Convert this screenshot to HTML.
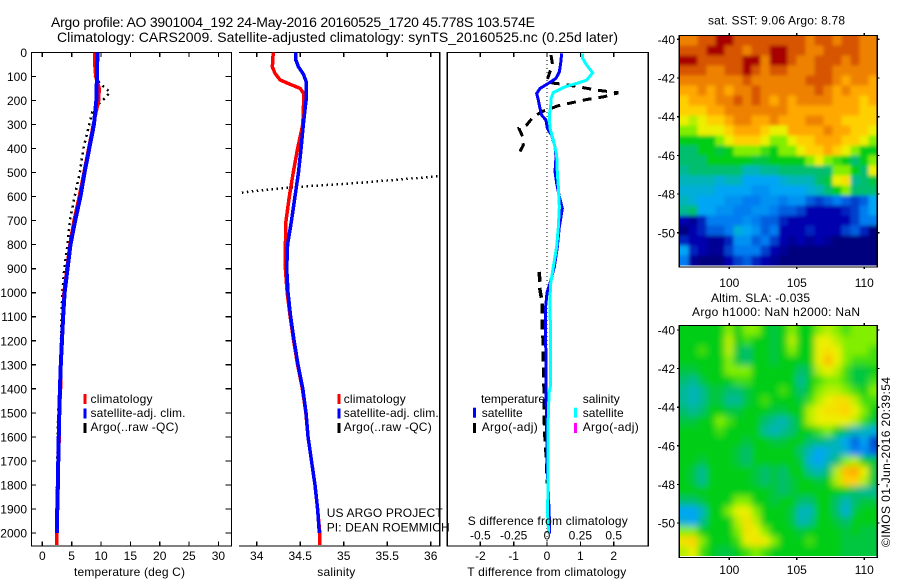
<!DOCTYPE html>
<html lang="en">
<head>
<meta charset="utf-8">
<title>Argo profile 3901004_192</title>
<style>
html,body{margin:0;padding:0;background:#fff;}
svg{display:block;}
text{font-family:"Liberation Sans",sans-serif;font-size:12px;fill:#000;}
.ttl{font-size:14px;}
.mid{text-anchor:middle;}
.end{text-anchor:end;}
.fr{stroke:#000;stroke-width:1.3;fill:none;shape-rendering:crispEdges;}
</style>
</head>
<body>
<svg id="fig" xmlns="http://www.w3.org/2000/svg" width="900" height="580" viewBox="0 0 900 580">
  <defs>
    <clipPath id="clipT"><rect x="32" y="52" width="199" height="494"/></clipPath>
    <clipPath id="clipS"><rect x="239" y="52" width="201" height="494"/></clipPath>
    <clipPath id="clipD"><rect x="447" y="52" width="201" height="494"/></clipPath>
    <clipPath id="clipM1"><rect x="679.3" y="35.5" width="198" height="230"/></clipPath>
    <clipPath id="clipM2"><rect x="679.3" y="325.5" width="198" height="230.5"/></clipPath>
    <filter id="soft" filterUnits="userSpaceOnUse" x="640" y="290" width="280" height="300"><feGaussianBlur stdDeviation="3.5"/></filter>
    <filter id="softA" filterUnits="userSpaceOnUse" x="640" y="0" width="280" height="300"><feGaussianBlur stdDeviation="1.8"/></filter>
  </defs>

  <text class="ttl" x="51" y="27" textLength="484" lengthAdjust="spacing">Argo profile: AO 3901004_192 24-May-2016 20160525_1720 45.778S 103.574E</text>
  <text class="ttl" x="57" y="42" textLength="561" lengthAdjust="spacing">Climatology: CARS2009. Satellite-adjusted climatology: synTS_20160525.nc (0.25d later)</text>

  <g id="panelT">
    <path class="fr" d="M31.5 52.5H231.5V546H31.5Z"/>
    <g id="seriesT" clip-path="url(#clipT)"></g>
    <g id="ticksT"></g>
    <rect x="83.5" y="394" width="3" height="10" fill="#f00"/>
    <text x="90.5" y="403" textLength="62">climatology</text>
    <rect x="83.5" y="408.5" width="3" height="10" fill="#00f"/>
    <text x="90.5" y="417" textLength="95">satellite-adj. clim.</text>
    <rect x="83.5" y="423" width="3" height="10" fill="#000"/>
    <text x="90.5" y="431" textLength="88">Argo(..raw -QC)</text>
    <text class="mid" x="129.5" y="576" textLength="111">temperature (deg C)</text>
  </g>

  <g id="panelS">
    <path class="fr" d="M239 52.5H439.7V546H239"/>
    <g id="seriesS" clip-path="url(#clipS)"></g>
    <g id="ticksS"></g>
    <rect x="337.5" y="394" width="3" height="10" fill="#f00"/>
    <text x="343.7" y="403" textLength="62">climatology</text>
    <rect x="337.5" y="408.5" width="3" height="10" fill="#00f"/>
    <text x="343.7" y="417" textLength="95">satellite-adj. clim.</text>
    <rect x="337.5" y="423" width="3" height="10" fill="#000"/>
    <text x="343.7" y="431" textLength="88">Argo(..raw -QC)</text>
    <text x="326.7" y="517" textLength="116">US ARGO PROJECT</text>
    <text x="326.7" y="531.7" textLength="123">PI: DEAN ROEMMICH</text>
    <text class="mid" x="336.3" y="576" textLength="38">salinity</text>
  </g>

  <g id="panelD">
    <path class="fr" d="M447.3 52.5H648.3V546H447.3Z"/>
    <g id="seriesD" clip-path="url(#clipD)"></g>
    <g id="ticksD"></g>
    <text x="481" y="403" textLength="64">temperature</text>
    <rect x="473" y="407.7" width="3" height="10" fill="#00f"/>
    <text x="481.7" y="417" textLength="41">satellite</text>
    <rect x="473" y="423" width="3" height="10" fill="#000"/>
    <text x="481.7" y="431" textLength="56">Argo(-adj)</text>
    <text x="582.7" y="403" textLength="37">salinity</text>
    <rect x="574" y="407.7" width="3" height="10" fill="#0ff"/>
    <text x="582.7" y="417" textLength="41">satellite</text>
    <rect x="574" y="423" width="3" height="10" fill="#f0f"/>
    <text x="582.7" y="431" textLength="56">Argo(-adj)</text>
    <text x="467.7" y="525" textLength="160">S difference from climatology</text>
    <text x="467.3" y="576" textLength="159">T difference from climatology</text>
  </g>

  <text class="mid" x="776.5" y="24.5" textLength="137">sat. SST: 9.06 Argo: 8.78</text>
  <g clip-path="url(#clipM1)"><g id="mapA" filter="url(#softA)"></g></g>
  <path class="fr" d="M679.3 35.5H877.3V267H679.3Z"/>
  <g id="ticksA"></g>

  <text class="mid" x="760.5" y="302" textLength="99">Altim. SLA: -0.035</text>
  <text class="mid" x="776" y="316" textLength="168">Argo h1000: NaN h2000: NaN</text>
  <g clip-path="url(#clipM2)"><g id="mapB" filter="url(#soft)"></g></g>
  <path class="fr" d="M679.3 325.5H877.3V557.5H679.3Z"/>
  <g id="ticksB"></g>

  <text transform="translate(890 547) rotate(-90)" x="0" y="0" textLength="170">©IMOS 01-Jun-2016 20:39:54</text>
</svg>

<script>
// ---------- axis tick labels ----------
const depthTicks = [0,100,200,300,400,500,600,700,800,900,1000,1100,1200,1300,1400,1500,1600,1700,1800,1900,2000];
const tempTicks = [0,5,10,15,20,25,30];
const salTicks = [34,34.5,35,35.5,36];
const tDiffTicks = [-2,-1,0,1,2];
const sDiffTicks = [-0.5,-0.25,0,0.25,0.5];
const sDiffTickLabels = ['-0.5','-0.25','0','0.25','0.5'];
const lonTicks = [100,105,110];
const latTicks = [-40,-42,-44,-46,-48,-50];

// ---------- temperature profile ----------
const tempSatDepths = [0,50,100,150,200,300,400,500,600,700,800,900,1000,1100,1200,1300,1400,1500,1600,1700,1800,1900,2000];
const tempSatValues = [9.4,9.35,9.3,9.26,9.2,8.8,8.0,7.2,6.5,5.6,4.8,4.3,3.8,3.55,3.35,3.15,3.0,2.9,2.8,2.72,2.65,2.55,2.5];
const tempClimDepths = [0,50,100,150,200,300,400,500,600,700,800,900,1000,1100,1200,1300,1400,1500,1600,1700,1800,1900,2050];
const tempClimValues = [8.9,8.95,9.1,9.7,9.6,8.7,7.9,7.1,6.3,5.4,4.7,4.2,3.7,3.5,3.3,3.1,3.1,2.9,2.9,2.7,2.7,2.5,2.5];
const tempArgoDepths = [0,100,130,165,190,215,250,300,400,500,600,700,800,900,1000,1400,1500,1800,1850];
const tempArgoValues = [8.97,8.97,9.83,11.5,10.7,9.5,8.5,8.0,7.0,6.4,5.5,4.7,4.3,3.75,3.4,2.95,2.7,2.5,2.45];

// ---------- salinity profile ----------
const salSatDepths = [0,30,60,90,120,200,300,400,500,600,700,800,900,1000,1100,1200,1300,1400,1500,1600,1700,1800,1900,2000];
const salSatValues = [34.448,34.448,34.48,34.536,34.567,34.567,34.536,34.51,34.48,34.44,34.40,34.355,34.345,34.36,34.39,34.43,34.475,34.53,34.567,34.59,34.63,34.67,34.70,34.72];
const salClimDepths = [0,60,87,115,129,150,171,200,300,400,500,600,700,800,900,1000,1100,1200,1300,1400,1500,1600,1700,1800,1900,2000,2050];
const salClimValues = [34.19,34.18,34.21,34.27,34.36,34.5,34.54,34.54,34.53,34.47,34.42,34.375,34.337,34.33,34.33,34.35,34.385,34.425,34.47,34.525,34.565,34.59,34.63,34.67,34.70,34.725,34.725];
const salArgoDepths = [516,530,545,559,572,584];
const salArgoValues = [36.08,35.6,35.1,34.5,34.1,33.82];

// ---------- differences from climatology ----------
const diffTSatDepths = [4,46,81,108,129,150,171,198,233,261,282,316,344,393,434,497,545,594,649,726,809,892,961,1000,1072,1142,1280,1419,1558,1696,1835,1974,2002];
const diffTSatValues = [0.44,0.41,0.37,0.27,0.04,-0.21,-0.31,-0.26,-0.21,-0.16,-0.03,0.01,0.14,0.24,0.27,0.24,0.29,0.36,0.46,0.37,0.31,0.22,0.09,0.0,-0.05,-0.05,-0.03,-0.03,-0.01,0,0.04,0.08,0.08];
const diffSSatDepths = [4,25,53,85,115,129,143,167,192,226,261,316,365,427,503,559,642,726,809,892,961,1024,1142,1391,1419,1558,1835,1905,2002];
const diffSSatValues = [0.2675,0.2675,0.2975,0.3425,0.2975,0.2225,0.135,0.0475,0.03,0.0275,0.0175,0.0225,0.0475,0.0725,0.0775,0.085,0.0925,0.085,0.0725,0.0475,0.0275,0.0225,0.025,0.025,0.015,0.0075,0.0075,0.0025,0.0125];
const diffTArgoUpperDepths = [11,53,87,122,129,132,143,157,168,185,196,208,222,244,268,302,316,351,386,420];
const diffTArgoUpperValues = [0.12,0.17,0.07,-0.01,0.24,0.47,0.94,1.49,2.14,1.69,1.19,0.79,0.34,-0.11,-0.41,-0.61,-0.84,-0.73,-0.71,-0.84];
const diffTArgoLowerDepths = [913,989,1045,1142,1211,1280,1391,1530,1600,1662,1724,1793];
const diffTArgoLowerValues = [-0.23,-0.21,-0.14,-0.14,-0.11,-0.11,-0.09,-0.08,-0.06,-0.03,-0.01,0.01];

// ---------- SST map values (colour-scale units) ----------
const sstGrid = [
[12,12,13,13,14,14,13,13,13,13,13,13,13,13,12,13,13,12,13,13,12,12],
[13,13,13,14,14,13,13,12,13,13,14,14,13,13,12,12,13,13,13,13,12,12],
[14,14,13,13,13,13,13,14,14,12,14,14,13,12,12,13,13,13,12,13,12,12],
[13,13,13,12,12,13,13,14,13,12,13,13,12,12,12,13,13,12,12,12,12,12],
[12,12,12,12,12,12,12,13,12,12,12,12,12,12,13,13,13,12,11,12,12,11],
[11,11,12,11,12,11,12,12,13,12,12,12,12,12,12,13,12,11,12,11,11,11],
[10,11,11,11,12,12,13,12,13,12,11,12,11,12,12,12,12,11,11,11,10,11],
[10,10,10,11,11,12,12,12,12,12,12,12,11,11,11,11,11,11,11,11,10,10],
[9,8.5,9,10,10,11,12,12,11,11,12,11,11,11,12,12,11,11,10,10,10,10],
[8,8,9,9,9,10,11,11,11,10,9,9,11,11,11,11,12,11,11,10,10,9],
[7,7,7,7,8,9,10,10,10,9,8,8,9,10,10,11,11,11,10,10,9,8],
[6,6,7,7,6.5,7,8,8,8,7.5,7,8,8,9,10,10,11,10,9,8,7,7],
[6,6,6,7,7,7,7,7,6.5,6.5,7,7,7,7,8,9,8,7.5,7,6,7,8],
[5.5,6,6,6,6,6,6,5,5,5.5,5.5,6,6,6,6,6,6,8,8,7,6,9],
[5,5,5,5,4.5,5,5,4,4,4,4,4.5,5,5,5,6,6.5,9,9.5,5.5,6,6.5],
[4.5,4.5,4.5,4.5,4,4,4,4,3.5,3.5,4,4,4,4,4.5,5,6,7,8,6,6,6],
[5,4.5,4,4,4,3.5,3.5,3,3,3.5,3.5,3,3.5,3.5,2.5,2,2.5,3,2.5,2,2.5,4],
[5.5,6,4,4,3.5,3.5,3,3,3.5,3.5,3,2.5,2.5,2,1,1,1,1,1.5,2,3,4],
[1,0.5,1.5,3,3,3,3,3.5,3,2.5,2.5,1.5,1,1,1,1,1,1,1,2,3,3],
[0,1,1.5,2.5,2.5,3,4.5,4,3.5,2.5,3,1,1,1,1.5,1,1,1,2,2.5,1.5,0],
[1.5,1,1,0.5,0.5,1.5,3.5,3.5,2.5,3,2,1,0.5,1,0.5,1,0.5,0,0,0,0,0],
[4,1.5,1,0.5,0.5,2,3,3,3,2,1,0.5,0,0,0,0,0,0,0,0,0,0],
[3,0.5,0,0,0,1,2,2.5,1.5,1,0.5,0,0,0,0,0,0,0,0,0,0,0]
];

// ---------- sea-level-anomaly map values (colour-scale units) ----------
const slaGrid = [
[7,7,7,7,7,8,7,8,8,7,6.5,7,8,7,7,8,8.5,8,7.5,8,8,8],
[7,7,7,7,7,8.5,7,7.5,7,7,6.5,7,8.5,7,7,9,9,8.5,8,8,8,8],
[7,7,7.5,7,7,8.5,6.5,6,7,7,6.5,7,8,7,7,9,9.5,9,8,8,8,7.5],
[7,7,7,7,7,8,6.5,6,7,7,6.5,7,7,7,7,9,10.5,9,8,7.5,7.5,7.5],
[6.5,6.5,7,7,7,8,8,8,7,7,7,7,7,6,6.5,8.5,9,8.5,7.5,6.5,6.5,7],
[6,5.5,6.5,7,7,7,7.5,7.5,7,7,7,7,7,5.5,7,7.5,8,8,7.5,6.5,6.5,7.5],
[5.5,5,5.5,6.5,6.5,6,6,6.5,7,7,7,7.5,7,6,7,8,8.5,8.5,8,7.5,7,8],
[5.5,5,5.5,6.5,6.5,5.5,5.5,6.5,7,7.5,7,7,7,6.5,7.5,8.5,9,9.5,9.5,8.5,7.5,7.5],
[6,5.5,6,7,7,6.5,6.5,7,7,7,6.5,6.5,7,7,8.5,9,9.5,9.5,10,9,8,7],
[6.5,6.5,7,7,8,7.5,7,7,7,6,5.5,5,6,7,8.5,9,9,9,9,8.5,7.5,6.5],
[7,7,7,7,7.5,7,7,7,7,5.5,5,5.5,6,7,7,7.5,8,7,6,5,5,4.5],
[7,7,7,7,7,7,7,6.5,7,7,6.5,6.5,7,7,6,6,5.5,5,4,2.5,4,2],
[7,7,7,7,7,7,6.5,6,7,7,7,7,7,6,5,4,4.5,5,4.5,3,3.5,2.5],
[7,7,6.5,7,7,7,6.5,6,7,7,7,7,7,6.5,4.5,4,5,6,8,8.5,7,6.5],
[7,6.5,5.5,7,7,7,7,7,6.5,6,6.5,6,7,7,5.5,5,6,8.5,10.5,11,9,6.5],
[7,6.5,5.5,7,7,7,7,7,6.5,6,6.5,6,6.5,7,7,6.5,7,8.5,10,10,8.5,6.5],
[7,7,7,7,7,7,7,7,7,7,6.5,6,6.5,7,7,7,7,7,7,6,5.5,5.5],
[6,6,6.5,7,7,7,8,8,7,7,6.5,7,7,6,6,7,7,6,5,6,6.5,6.5],
[4,4,5,7,7,8,9,9,8,7,7,7,6.5,5,5,7,7,6,4.5,6.5,7,7],
[4.5,4,5.5,7,7,7,8.5,9.5,8.5,7,7,7,6.5,5,5.5,7,7,6.5,6,7,7,7],
[8,8,7,7,7,7,8,9.5,9,8,7,7,7,6.5,7,7,7,7,6.5,7,6.5,6.5],
[9.5,10,8,7,7,7,7.5,9,9.5,9,8,7,7,7,7.5,7,7,7,6.5,6.5,6.5,6.5],
[8.5,9,7.5,7,6.5,6.5,7,7.5,8,7.5,7,7,7,7,7,7,7,7,6.5,6.5,6.5,6.5]
];

// ---------- axis functions ----------
const NS = 'http://www.w3.org/2000/svg';
const yDepth = d => 52.4 + d * 0.2403;
const xTemp = v => 42.3 + v * 5.87;
const xSal = v => 256.7 + (v - 34) * 87;
const xDiffT = v => 547 + v * 33.35;
const xDiffS = v => 547 + v * 133.4;
const xLon = v => 729.3 + (v - 100) * 13.5;
const yLatA = v => 39.3 + (-40 - v) * 19.35;
const yLatB = v => 330 + (-40 - v) * 19.3;

const palette = [[0,0,127],[0,0,175],[0,64,205],[0,125,240],[0,165,245],[0,180,185],[0,190,110],[0,205,20],[130,238,0],[235,240,0],[255,208,0],[255,168,0],[238,130,0],[215,85,0],[168,0,0]];
function colour(v){
  const c = Math.max(0, Math.min(palette.length - 1, v));
  const i = Math.min(palette.length - 2, Math.floor(c));
  const f = c - i;
  const p = palette[i], q = palette[i + 1];
  return 'rgb(' + [0,1,2].map(k => Math.round(p[k] + (q[k] - p[k]) * f)).join(',') + ')';
}
function pathOf(depths, values, xf){
  return depths.map((d, i) => (i ? 'L' : 'M') + xf(values[i]).toFixed(2) + ' ' + yDepth(d).toFixed(2)).join('');
}
function strokePath(parent, d, colourName, width, dash){
  const el = document.createElementNS(NS, 'path');
  el.setAttribute('d', d);
  el.setAttribute('fill', 'none');
  el.setAttribute('stroke', colourName);
  el.setAttribute('stroke-width', width);
  el.setAttribute('shape-rendering', 'crispEdges');
  if (dash) el.setAttribute('stroke-dasharray', dash);
  parent.appendChild(el);
  return el;
}
function seg(parent, x1, y1, x2, y2){
  const el = document.createElementNS(NS, 'line');
  el.setAttribute('x1', x1); el.setAttribute('y1', y1);
  el.setAttribute('x2', x2); el.setAttribute('y2', y2);
  el.setAttribute('stroke', '#000');
  el.setAttribute('stroke-width', '1.2');
  el.setAttribute('shape-rendering', 'crispEdges');
  parent.appendChild(el);
  return el;
}
function label(parent, x, y, str, anchor){
  const el = document.createElementNS(NS, 'text');
  el.setAttribute('x', x); el.setAttribute('y', y);
  el.setAttribute('text-anchor', anchor);
  el.textContent = str;
  parent.appendChild(el);
  return el;
}

// ---------- series ----------
const seriesT = document.getElementById('seriesT');
const seriesS = document.getElementById('seriesS');
const seriesD = document.getElementById('seriesD');

const lineTA = strokePath(seriesT, pathOf(tempArgoDepths, tempArgoValues, xTemp), '#000', 2.5, '2 4');


const lineTC = strokePath(seriesT, pathOf(tempClimDepths, tempClimValues, xTemp), '#f00', 3.5);


const lineTS = strokePath(seriesT, pathOf(tempSatDepths, tempSatValues, xTemp), '#00f', 4);



const lineSA = strokePath(seriesS, pathOf(salArgoDepths, salArgoValues, xSal), '#000', 2.5, '1.5 3.5');


const lineSC = strokePath(seriesS, pathOf(salClimDepths, salClimValues, xSal), '#f00', 3.5);


const lineSS = strokePath(seriesS, pathOf(salSatDepths, salSatValues, xSal), '#00f', 3.5);



const zeroLine = strokePath(seriesD, 'M' + xDiffT(0) + ' 52V546', '#000', 1, '1 3');


const lineDA1 = strokePath(seriesD, pathOf(diffTArgoUpperDepths, diffTArgoUpperValues, xDiffT), '#000', 3, '9 7');


const lineDA2 = strokePath(seriesD, pathOf(diffTArgoLowerDepths, diffTArgoLowerValues, xDiffT), '#000', 3.5, '10 6');


const lineDT = strokePath(seriesD, pathOf(diffTSatDepths, diffTSatValues, xDiffT), '#00f', 3);


const lineDS = strokePath(seriesD, pathOf(diffSSatDepths, diffSSatValues, xDiffS), '#0ff', 3);



// ---------- ticks ----------
const ticksT = document.getElementById('ticksT');
depthTicks.forEach(d => {
  const l = seg(ticksT, 31.5, yDepth(d), 36, yDepth(d));
  
  
  const r = seg(ticksT, 225.5, yDepth(d), 231.5, yDepth(d));
  
  
  const t = label(ticksT, 27, yDepth(d) + 4.5, String(d), 'end');
  
  
});
tempTicks.forEach(v => {
  const a = seg(ticksT, xTemp(v), 52.5, xTemp(v), 57);
  
  
  const b = seg(ticksT, xTemp(v), 541.5, xTemp(v), 546);
  
  
  const t = label(ticksT, xTemp(v), 560, String(v), 'middle');
  
  
});
const ticksS = document.getElementById('ticksS');
salTicks.forEach(v => {
  const a = seg(ticksS, xSal(v), 52.5, xSal(v), 57);
  
  
  const b = seg(ticksS, xSal(v), 541.5, xSal(v), 546);
  
  
  const t = label(ticksS, xSal(v), 560, String(v), 'middle');
  
  
});
const ticksD = document.getElementById('ticksD');
tDiffTicks.forEach(v => {
  const a = seg(ticksD, xDiffT(v), 52.5, xDiffT(v), 57);
  
  
  const b = seg(ticksD, xDiffT(v), 541.5, xDiffT(v), 546);
  
  
  const t = label(ticksD, xDiffT(v), 560, String(v), 'middle');
  
  
});
sDiffTicks.forEach((v, i) => {
  const t = label(ticksD, xDiffS(v), 539.3, sDiffTickLabels[i], 'middle');
  
  
});

// ---------- heatmaps ----------
const lonStart = 96.3, lonStep = 0.6664;
const latStartA = -39.8, latStepA = 0.5168;
const latStartB = -39.77, latStepB = 0.5193;
const edgeBleed = 14;
function cellRect(parent, grid, lonIdx, latIdx, latStart, latStep, yf){
  let x0 = xLon(lonStart + lonIdx * lonStep);
  let x1 = xLon(lonStart + (lonIdx + 1) * lonStep);
  let y0 = yf(latStart - latIdx * latStep);
  let y1 = yf(latStart - (latIdx + 1) * latStep);
  if (lonIdx === 0) x0 -= edgeBleed;
  if (lonIdx === grid[0].length - 1) x1 += edgeBleed;
  if (latIdx === 0) y0 -= edgeBleed;
  if (latIdx === grid.length - 1) y1 += edgeBleed;
  const el = document.createElementNS(NS, 'rect');
  el.setAttribute('x', x0.toFixed(2));
  el.setAttribute('y', y0.toFixed(2));
  el.setAttribute('width', (x1 - x0 + 0.4).toFixed(2));
  el.setAttribute('height', (y1 - y0 + 0.4).toFixed(2));
  el.setAttribute('fill', colour(grid[latIdx][lonIdx]));
  el.setAttribute('shape-rendering', 'crispEdges');
  parent.appendChild(el);
  return el;
}
const mapA = document.getElementById('mapA');
sstGrid.forEach((row, j) => row.forEach((v, i) => {
  const c = cellRect(mapA, sstGrid, i, j, latStartA, latStepA, yLatA);
  
  
}));
const mapB = document.getElementById('mapB');
slaGrid.forEach((row, j) => row.forEach((v, i) => {
  const c = cellRect(mapB, slaGrid, i, j, latStartB, latStepB, yLatB);
  
  
}));

// ---------- map ticks ----------
const ticksA = document.getElementById('ticksA');
lonTicks.forEach(v => {
  const a = seg(ticksA, xLon(v), 33, xLon(v), 35.5);
  
  
  const b = seg(ticksA, xLon(v), 267, xLon(v), 269);
  
  
  const t = label(ticksA, xLon(v), 287, String(v), 'middle');
  
  
});
latTicks.forEach(v => {
  const a = seg(ticksA, 677, yLatA(v), 679.3, yLatA(v));
  
  
  const b = seg(ticksA, 877.3, yLatA(v), 879.5, yLatA(v));
  
  
  const t = label(ticksA, 675, yLatA(v) + 4.5, String(v), 'end');
  
  
});
const ticksB = document.getElementById('ticksB');
lonTicks.forEach(v => {
  const a = seg(ticksB, xLon(v), 323, xLon(v), 325.5);
  
  
  const b = seg(ticksB, xLon(v), 557.5, xLon(v), 560);
  
  
  const t = label(ticksB, xLon(v), 574, String(v), 'middle');
  
  
});
latTicks.forEach(v => {
  const a = seg(ticksB, 677, yLatB(v), 679.3, yLatB(v));
  
  
  const b = seg(ticksB, 877.3, yLatB(v), 879.5, yLatB(v));
  
  
  const t = label(ticksB, 675, yLatB(v) + 4.5, String(v), 'end');
  
  
});
</script>
</body>
</html>
